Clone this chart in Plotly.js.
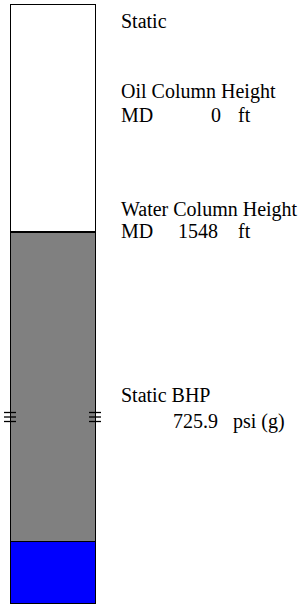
<!DOCTYPE html>
<html>
<head>
<meta charset="utf-8">
<script src="https://cdn.plot.ly/plotly-3.0.1.min.js"></script>
<style>html,body{margin:0;padding:0;background:#fff;}#chart{width:299px;height:605px;}</style>
</head>
<body>
<div id="chart"></div>
<script>
// ---- data (depths in ft) ----
var layerNames = ["Upper", "Water", "Lower"];
var layerThickness = [1140, 1548, 312];
var layerColors = ["#ffffff", "#808080", "#0000ff"];
var bhpDepth = 2065;
var oilColumnHeight = 0;
var waterColumnHeight = 1548;
var staticBHP = 725.9;
var labelTitle = "Static";
var labelOil = "Oil Column Height";
var labelWater = "Water Column Height";
var labelBHP = "Static BHP";
var labelMD = "MD";
var unitFt = "ft";
var unitPsi = "psi (g)";

var totalDepth = layerThickness.reduce(function (a, b) { return a + b; }, 0);

var W = 299, H = 605, ML = 10, MR = 203, MT = 4, MB = 1;
var plotW = W - ML - MR, plotH = H - MT - MB;
function px2x(px) { return (px - ML) / plotW; }
function px2y(py) { return (H - MB - py) / plotH; }

var traces = layerNames.map(function (n, i) {
  return {
    type: "bar", name: n, x: [0], y: [layerThickness[i]], width: 1,
    marker: { color: layerColors[i], line: { color: "#000", width: 1.5 } },
    hoverinfo: "none", cliponaxis: false
  };
});

var font = { family: "'Liberation Serif', 'Times New Roman', Times, serif", size: 20, color: "#000" };
function ann(text, px, pyCenter) {
  return { text: text, xref: "paper", yref: "paper", x: px2x(px), y: px2y(pyCenter),
           xanchor: "left", yanchor: "middle", showarrow: false, font: font, borderpad: 0 };
}
var annotations = [
  ann(labelTitle, 120, 21),
  ann(labelOil, 120, 92),
  ann(labelMD, 120, 115), ann(String(oilColumnHeight), 210, 115), ann(unitFt, 237, 115),
  ann(labelWater, 120, 209),
  ann(labelMD, 120, 231), ann(String(waterColumnHeight), 177, 231), ann(unitFt, 237, 231),
  ann(labelBHP, 120, 395),
  ann(staticBHP.toFixed(1), 172, 421), ann(unitPsi, 232, 421)
];

var shapes = [];
[-4.5, 0, 4.5].forEach(function (off) {
  [[px2x(4), px2x(16)], [px2x(89), px2x(101)]].forEach(function (xs) {
    shapes.push({ type: "line", xref: "paper", yref: "y", ysizemode: "pixel", yanchor: bhpDepth,
                  x0: xs[0], x1: xs[1], y0: off, y1: off, line: { color: "#000", width: 1.3 } });
  });
});

var layout = {
  width: W, height: H, margin: { l: ML, r: MR, t: MT, b: MB, pad: 0 },
  paper_bgcolor: "#fff", plot_bgcolor: "#fff", barmode: "stack", showlegend: false,
  font: font,
  xaxis: { range: [-0.5, 0.5], visible: false, fixedrange: true },
  yaxis: { range: [totalDepth, 0], visible: false, fixedrange: true },
  annotations: annotations, shapes: shapes
};
Plotly.newPlot("chart", traces, layout, { displayModeBar: false, staticPlot: true });
</script>
</body>
</html>
